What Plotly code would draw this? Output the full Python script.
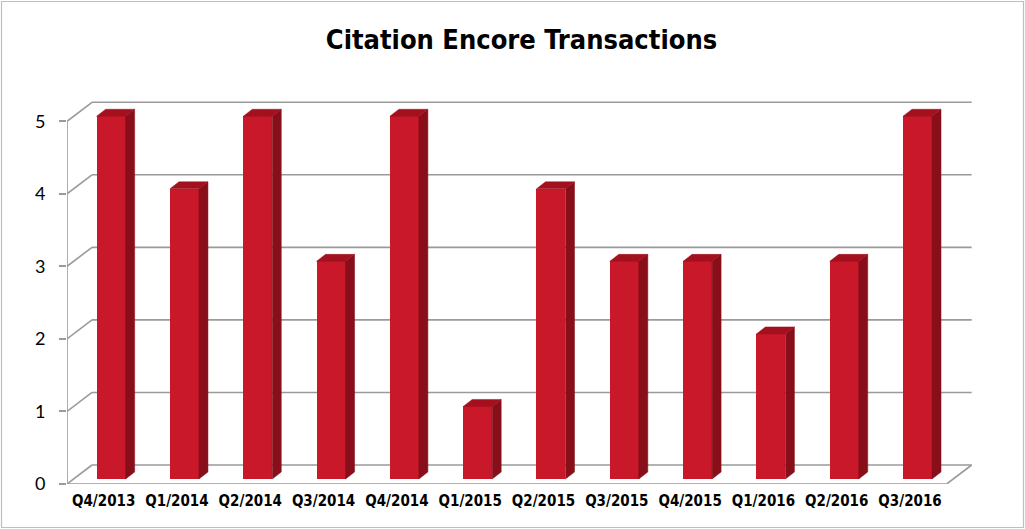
import plotly.graph_objects as go

categories = ["Q4/2013", "Q1/2014", "Q2/2014", "Q3/2014", "Q4/2014", "Q1/2015",
              "Q2/2015", "Q3/2015", "Q4/2015", "Q1/2016", "Q2/2016", "Q3/2016"]
values = [5, 4, 5, 3, 5, 1, 4, 3, 3, 2, 3, 5]
y_ticks = [0, 1, 2, 3, 4, 5]

# layout geometry (pixels)
FIG_W, FIG_H = 1025, 529
ML, MR, MT, MB = 67, 49, 85, 45
PW = FIG_W - ML - MR
PH = FIG_H - MT - MB
X_RANGE = [-0.5, 11.9]
Y_RANGE = [0, 5.5]
PX_X = PW / (X_RANGE[1] - X_RANGE[0])
PX_Y = PH / (Y_RANGE[1] - Y_RANGE[0])

# 3D depth offsets in data units
WALL_DX, WALL_DY = 25 / PX_X, 19 / PX_Y      # full floor depth
BAR_OX, BAR_OY = 7.5 / PX_X, 5 / PX_Y        # bar plane inset
BAR_DX, BAR_DY = 9 / PX_X, 7 / PX_Y          # bar depth
BAR_W = 29 / PX_X

FRONT = "#C8182A"
SIDE = "#880E19"
TOP = "#A3111F"
GRID = "#9A9A9A"
COND = "DejaVu Sans Condensed, DejaVu Sans, sans-serif"

fig = go.Figure()

# front faces
xs = [i + BAR_OX for i in range(len(values))]
fig.add_trace(go.Bar(x=xs, y=values, base=[BAR_OY] * len(values), width=BAR_W,
                     marker=dict(color=FRONT, line=dict(width=0)), hoverinfo="skip",
                     showlegend=False))

# side & top faces
for xc, v in zip(xs, values):
    xl, xr = xc - BAR_W / 2, xc + BAR_W / 2
    y0, y1 = BAR_OY, BAR_OY + v
    fig.add_trace(go.Scatter(
        x=[xr, xr + BAR_DX, xr + BAR_DX, xr, xr],
        y=[y0, y0 + BAR_DY, y1 + BAR_DY, y1, y0],
        fill="toself", fillcolor=SIDE, mode="lines", line=dict(color=SIDE, width=0.5),
        hoverinfo="skip", showlegend=False))
    fig.add_trace(go.Scatter(
        x=[xl, xl + BAR_DX, xr + BAR_DX, xr, xl],
        y=[y1, y1 + BAR_DY, y1 + BAR_DY, y1, y1],
        fill="toself", fillcolor=TOP, mode="lines", line=dict(color=TOP, width=0.5),
        hoverinfo="skip", showlegend=False))

shapes = []
x_left, x_right = -0.5, len(categories) - 0.5
# back wall gridlines and left-wall diagonals
for k in y_ticks:
    shapes.append(dict(type="line", xref="x", yref="y", layer="below",
                       x0=x_left + WALL_DX, x1=x_right + WALL_DX, y0=k + WALL_DY, y1=k + WALL_DY,
                       line=dict(color=GRID, width=1.6)))
    shapes.append(dict(type="line", xref="x", yref="y", layer="below",
                       x0=x_left, x1=x_left + WALL_DX, y0=k, y1=k + WALL_DY,
                       line=dict(color=GRID, width=1.6)))
# floor front edge and right diagonal
shapes.append(dict(type="line", xref="x", yref="y", layer="below",
                   x0=x_left, x1=x_right, y0=0, y1=0, line=dict(color=GRID, width=1.6)))
shapes.append(dict(type="line", xref="x", yref="y", layer="below",
                   x0=x_right, x1=x_right + WALL_DX, y0=0, y1=WALL_DY,
                   line=dict(color=GRID, width=1.6)))
# front vertical axis line
shapes.append(dict(type="line", xref="x", yref="y", layer="below",
                   x0=x_left, x1=x_left, y0=0, y1=max(y_ticks),
                   line=dict(color=GRID, width=1.6)))
# outer border of the chart
def px_to_paper_x(px):
    return (px - ML) / PW
def px_to_paper_y(py):
    return (FIG_H - MB - py) / PH
shapes.append(dict(type="rect", xref="paper", yref="paper",
                   x0=px_to_paper_x(1.5), x1=px_to_paper_x(1023.5),
                   y0=px_to_paper_y(527.5), y1=px_to_paper_y(1.5),
                   line=dict(color="#BEBEBE", width=1.2), fillcolor="rgba(0,0,0,0)"))

fig.update_layout(
    width=FIG_W, height=FIG_H,
    margin=dict(l=ML, r=MR, t=MT, b=MB),
    paper_bgcolor="white", plot_bgcolor="white",
    shapes=shapes,
    title=dict(text="Citation Encore Transactions", x=0.5, xref="paper",
               xanchor="center", y=1 - 40 / FIG_H, yanchor="middle",
               font=dict(family=COND, size=27, color="black", weight="bold")),
    xaxis=dict(range=X_RANGE, tickvals=list(range(len(categories))), ticktext=categories,
               showgrid=False, zeroline=False, showline=False, ticks="",
               ticklabelstandoff=6,
               tickfont=dict(family=COND, size=15, color="black", weight="bold"),
               fixedrange=True),
    yaxis=dict(range=Y_RANGE, tickvals=y_ticks, showgrid=False, zeroline=False,
               showline=False, ticks="outside", ticklen=7, tickcolor=GRID, tickwidth=1.6,
               ticklabelstandoff=10,
               tickfont=dict(family="Lato", size=18, color="black"), fixedrange=True),
    bargap=0,
)

fig.write_html("out.html", config={"displayModeBar": False},
               post_script="document.body.style.margin='0';")
